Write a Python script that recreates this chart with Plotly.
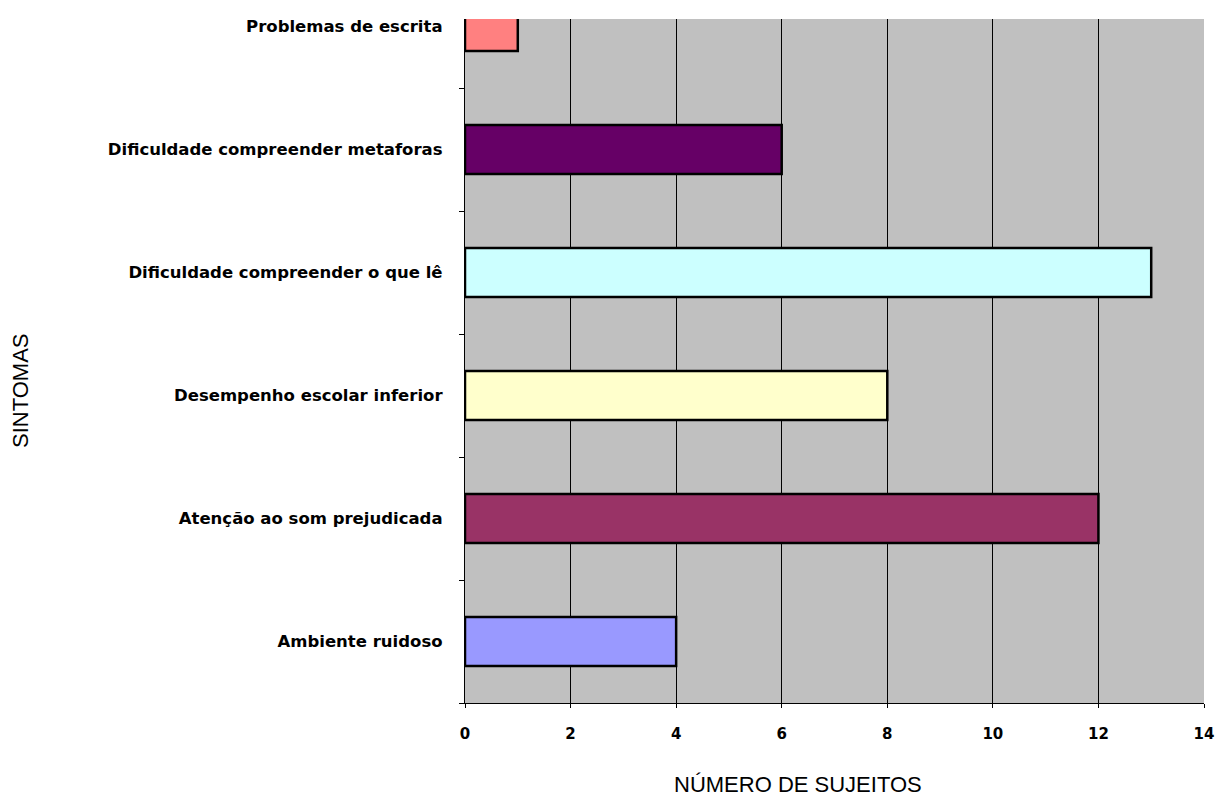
import plotly.graph_objects as go

# Symptoms (bottom to top) and number of subjects reporting each
sintomas = [
    "Ambiente ruidoso",
    "Atenção ao som prejudicada",
    "Desempenho escolar inferior",
    "Dificuldade compreender o que lê",
    "Dificuldade compreender metaforas",
    "Problemas de escrita",
]
sujeitos = [4, 12, 8, 13, 6, 1]
cores = ["#9999FF", "#993366", "#FFFFCC", "#CCFFFF", "#660066", "#FF8080"]

W, H = 1215, 802
L, R, T, B = 465, 11, 19, 99

fig = go.Figure(
    go.Bar(
        x=sujeitos,
        y=sintomas,
        orientation="h",
        width=0.4,
        marker=dict(color=cores, line=dict(color="black", width=2.5)),
        hoverinfo="x+y",
    )
)

ytick_font = dict(family="DejaVu Sans", size=16.5, color="black", weight="bold")
xtick_font = dict(family="DejaVu Sans", size=15, color="black", weight="bold")
title_font = dict(family="Liberation Sans, Arial", size=22, color="black")

fig.update_layout(
    width=W,
    height=H,
    margin=dict(l=L, r=R, t=T, b=B, autoexpand=False),
    paper_bgcolor="white",
    plot_bgcolor="#C0C0C0",
    showlegend=False,
)

fig.update_xaxes(
    range=[0, 14],
    dtick=2,
    tick0=0,
    showgrid=True,
    gridcolor="black",
    gridwidth=1.3,
    zeroline=False,
    showline=True,
    linecolor="black",
    linewidth=1.3,
    ticks="outside",
    ticklen=4,
    tickcolor="black",
    tickfont=xtick_font,
    ticklabelstandoff=13,
)

fig.update_yaxes(
    type="category",
    categoryorder="array",
    categoryarray=sintomas,
    range=[-0.5, 5.061],
    tickson="boundaries",
    showgrid=False,
    zeroline=False,
    showline=True,
    linecolor="black",
    linewidth=1.3,
    ticks="outside",
    ticklen=5,
    tickcolor="black",
    tickfont=ytick_font,
    ticklabelstandoff=18,
)

pw = W - L - R
ph = H - T - B
fig.add_annotation(
    text="NÚMERO DE SUJEITOS",
    xref="paper", yref="paper",
    x=(798 - L) / pw, y=-(784 - (H - B)) / ph,
    xanchor="center", yanchor="middle",
    showarrow=False, font=title_font,
)
fig.add_annotation(
    text="SINTOMAS",
    xref="paper", yref="paper",
    x=(20 - L) / pw, y=((H - B) - 391) / ph,
    xanchor="center", yanchor="middle",
    textangle=-90,
    showarrow=False, font=title_font,
)

fig.write_html("out.html")
